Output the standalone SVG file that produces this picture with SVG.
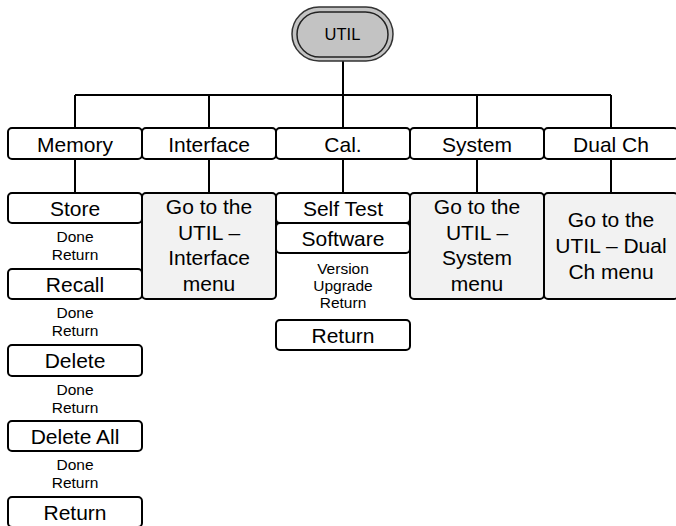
<svg xmlns="http://www.w3.org/2000/svg" width="676" height="526" viewBox="0 0 676 526">
<style>
.b{fill:#fff;stroke:#000;stroke-width:2}
.g{fill:#f2f2f2;stroke:#000;stroke-width:2}
.t{font-family:"Liberation Sans",Arial,sans-serif;font-size:21px;text-anchor:middle;fill:#000}
.s{font-family:"Liberation Sans",Arial,sans-serif;font-size:15.5px;text-anchor:middle;fill:#000}
.c{stroke:#000;stroke-width:2;fill:none}
</style>
<rect width="676" height="526" fill="#fff"/>
<g id="connectors" class="c">
<path d="M343 61V95M75 95H611M75 95V128M209 95V128M343 95V128M477 95V128M611 95V128"/>
<path d="M75 159V193M209 159V193M343 159V193M477 159V193M611 159V193"/>
</g>
<g id="util">
<rect x="292" y="7" width="101" height="54" rx="27" fill="#c3c3c3" stroke="#333" stroke-width="1.5"/>
<rect x="297" y="12" width="91" height="45" rx="22.5" fill="#c3c3c3" stroke="#222" stroke-width="1.5"/>
<text x="342.5" y="39.5" class="t" style="font-size:16.5px">UTIL</text>
</g>
<g id="memory"><rect x="8" y="128" width="134" height="31" rx="4" class="b"/><text x="75" y="151.5" class="t">Memory</text></g>
<g id="interface"><rect x="142" y="128" width="134" height="31" rx="4" class="b"/><text x="209" y="151.5" class="t">Interface</text></g>
<g id="cal"><rect x="276" y="128" width="134" height="31" rx="4" class="b"/><text x="343" y="151.5" class="t">Cal.</text></g>
<g id="system"><rect x="410" y="128" width="134" height="31" rx="4" class="b"/><text x="477" y="151.5" class="t">System</text></g>
<g id="dualch"><rect x="544" y="128" width="134" height="31" rx="4" class="b"/><text x="611" y="151.5" class="t">Dual Ch</text></g>

<g id="store"><rect x="8" y="193" width="134" height="30" rx="4" class="b"/><text x="75" y="215.5" class="t">Store</text>
<text x="75" y="242" class="s">Done</text><text x="75" y="260" class="s">Return</text></g>
<g id="recall"><rect x="8" y="269" width="134" height="30" rx="4" class="b"/><text x="75" y="291.5" class="t">Recall</text>
<text x="75" y="318" class="s">Done</text><text x="75" y="336" class="s">Return</text></g>
<g id="delete"><rect x="8" y="345" width="134" height="31" rx="4" class="b"/><text x="75" y="368" class="t">Delete</text>
<text x="75" y="395" class="s">Done</text><text x="75" y="413" class="s">Return</text></g>
<g id="deleteall"><rect x="8" y="421" width="134" height="30" rx="4" class="b"/><text x="75" y="443.5" class="t">Delete All</text>
<text x="75" y="470" class="s">Done</text><text x="75" y="488" class="s">Return</text></g>
<g id="memreturn"><rect x="8" y="497" width="134" height="30" rx="4" class="b"/><text x="75" y="519.5" class="t">Return</text></g>

<g id="interfacemenu"><rect x="142" y="193" width="134" height="106" rx="4" class="g"/>
<text class="t"><tspan x="209" y="214">Go to the</tspan><tspan x="209" y="239.5">UTIL –</tspan><tspan x="209" y="265">Interface</tspan><tspan x="209" y="290.5">menu</tspan></text></g>

<g id="selftest"><rect x="276" y="193" width="134" height="30" rx="4" class="b"/><text x="343" y="215.5" class="t">Self Test</text></g>
<g id="software"><rect x="276" y="223" width="134" height="30" rx="4" class="b"/><text x="343" y="245.5" class="t">Software</text>
<text x="343" y="274" class="s">Version</text><text x="343" y="291" class="s">Upgrade</text><text x="343" y="308" class="s">Return</text></g>
<g id="calreturn"><rect x="276" y="320" width="134" height="30" rx="4" class="b"/><text x="343" y="342.5" class="t">Return</text></g>

<g id="systemmenu"><rect x="410" y="193" width="134" height="106" rx="4" class="g"/>
<text class="t"><tspan x="477" y="214">Go to the</tspan><tspan x="477" y="239.5">UTIL –</tspan><tspan x="477" y="265">System</tspan><tspan x="477" y="290.5">menu</tspan></text></g>

<g id="dualchmenu"><rect x="544" y="193" width="134" height="106" rx="4" class="g"/>
<text class="t"><tspan x="611" y="227">Go to the</tspan><tspan x="611" y="253">UTIL – Dual</tspan><tspan x="611" y="279">Ch menu</tspan></text></g>
</svg>
